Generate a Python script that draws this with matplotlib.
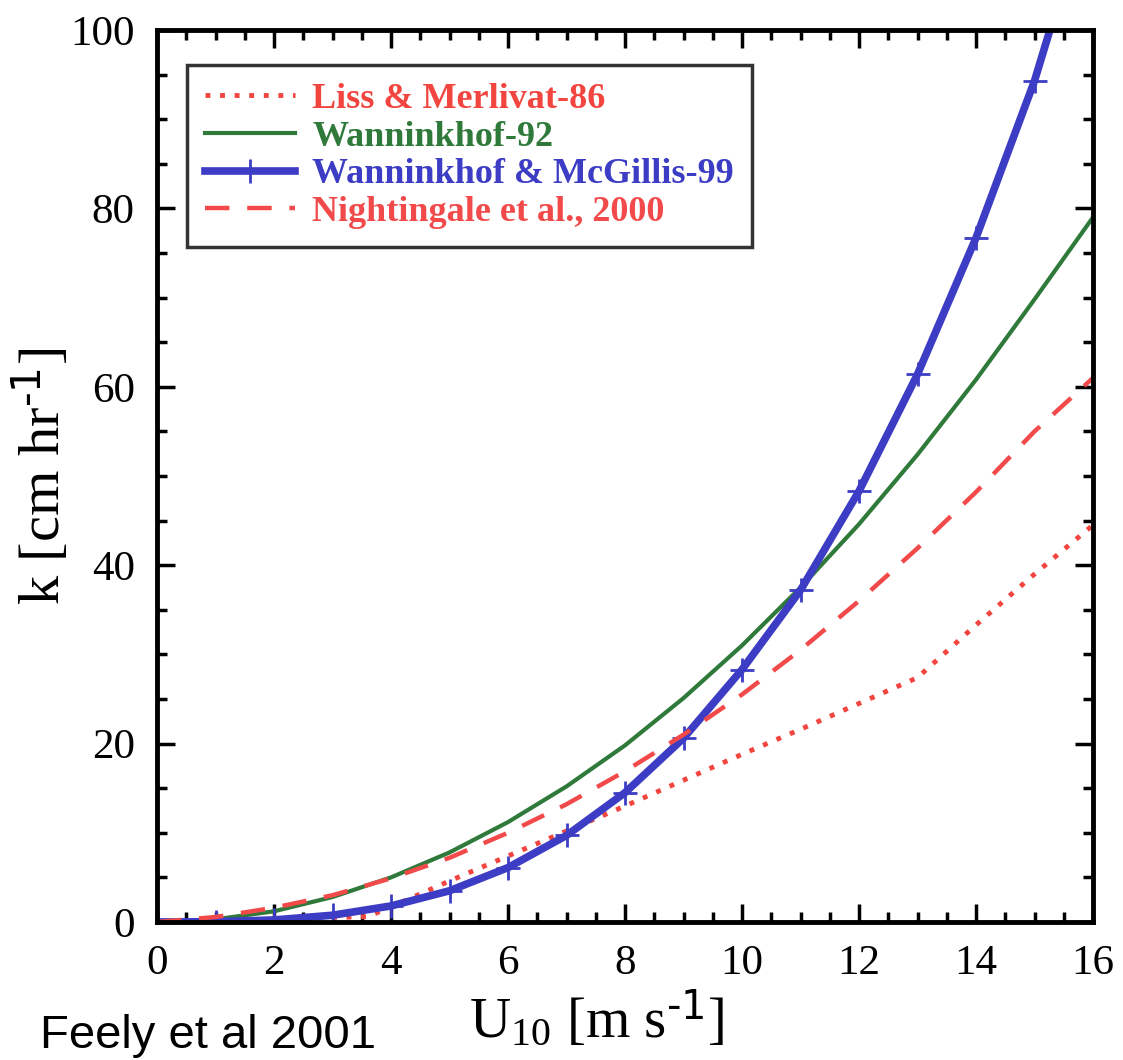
import matplotlib
matplotlib.use("Agg")
import matplotlib.pyplot as plt
from matplotlib.ticker import MultipleLocator

# wind speed (m/s)
u = [0, 1, 2, 3, 4, 5, 6, 7, 8, 9, 10, 11, 12, 13, 14, 15, 16]
# Liss & Merlivat-86 (dotted)
u_lm = [0, 1, 2, 3, 3.6, 4, 5, 6, 7, 8, 9, 10, 11, 12, 13, 14, 15, 16]
k_lm = [0, 0.15, 0.3, 0.5, 0.6, 1.7, 4.6, 7.4, 10.2, 13.0, 15.9, 18.8, 21.6, 24.5, 27.4, 33.3, 39.0, 44.5]
# Wanninkhof-92 (green solid)
k_w92 = [0, 0.3, 1.2, 2.8, 5.0, 7.8, 11.2, 15.2, 19.8, 25.1, 31.0, 37.5, 44.6, 52.4, 60.8, 69.8, 79.0]
# Wanninkhof & McGillis-99 (blue with + markers)
k_wm99 = [0, 0.03, 0.23, 0.76, 1.8, 3.5, 6.1, 9.7, 14.5, 20.6, 28.3, 37.2, 48.3, 61.4, 76.7, 94.3, 115.9]
# Nightingale et al., 2000 (red dashed)
k_n00 = [0, 0.56, 1.6, 3.0, 4.9, 7.2, 10.0, 13.2, 16.9, 21.0, 25.5, 30.5, 36.0, 41.9, 48.2, 55.0, 61.0]

labels = ["Liss & Merlivat-86", "Wanninkhof-92", "Wanninkhof & McGillis-99", "Nightingale et al., 2000"]
xticks = [0, 2, 4, 6, 8, 10, 12, 14, 16]
yticks = [0, 20, 40, 60, 80, 100]

plt.rcParams['font.family'] = ['Liberation Serif', 'DejaVu Serif']
plt.rcParams['mathtext.default'] = 'regular'

W, H, DPI = 1123, 1060, 100
fig = plt.figure(figsize=(W / DPI, H / DPI), dpi=DPI)
ax = fig.add_axes([157 / W, 1 - 922 / H, (1093 - 157) / W, (922 - 30) / H])

c_red = '#f2453f'
c_green = '#2f7a3a'
c_blue = '#3c3cc4'
c_dash = '#f24a4a'

l1, = ax.plot(u_lm, k_lm, linestyle=(0, (1.0, 2.0)), color=c_red, lw=3.5, label=labels[0],
              dash_capstyle='butt')
l2, = ax.plot(u, k_w92, '-', color=c_green, lw=3, label=labels[1])
l3, = ax.plot(u, k_wm99, '-', color=c_blue, lw=5.5, marker='+', ms=17, mew=2,
              label=labels[2])
l4, = ax.plot(u, k_n00, linestyle=(0, (5.5, 4)), color=c_dash, lw=3.2, label=labels[3])

ax.set_xlim(0, 16)
ax.set_ylim(0, 100)
ax.set_xticks(xticks)
ax.set_yticks(yticks)
ax.xaxis.set_minor_locator(MultipleLocator(0.5))
ax.yaxis.set_minor_locator(MultipleLocator(5))
ax.tick_params(which='both', direction='in', top=True, right=True, width=2.5,
               labelsize=31, colors='black')
ax.tick_params(which='major', length=13)
ax.tick_params(which='minor', length=7)
ax.tick_params(axis='x', pad=16)
ax.tick_params(axis='y', pad=16)
for sp in ax.spines.values():
    sp.set_linewidth(3.5)

ax.set_ylabel('k [cm hr$^{\\text{-1}}$]', fontsize=42)
ax.yaxis.set_label_coords((72 - 157) / 936, 0.5, transform=ax.transAxes)
ax.set_xlabel('U$_{10}$ [m s$^{\\text{-1}}$]', fontsize=41)
ax.xaxis.set_label_coords(0.47, -0.075, transform=ax.transAxes)

leg = ax.legend(handles=[l1, l2, l3, l4], loc='upper left', bbox_to_anchor=(0.032, 0.961),
                prop={'weight': 'bold', 'size': 26, 'family': 'Liberation Serif'},
                frameon=True, fancybox=False, edgecolor='black', handlelength=2.5,
                handletextpad=0.47, labelspacing=0.12, borderpad=0.5, borderaxespad=0)
leg.get_frame().set_linewidth(2.5)
for t, c in zip(leg.get_texts(), [c_red, c_green, c_blue, c_dash]):
    t.set_color(c)

fig.text(40 / W, 1 - 1048 / H, 'Feely et al 2001', fontsize=34, family='Liberation Sans',
         ha='left', va='baseline')

fig.savefig('out.png', dpi=DPI)
